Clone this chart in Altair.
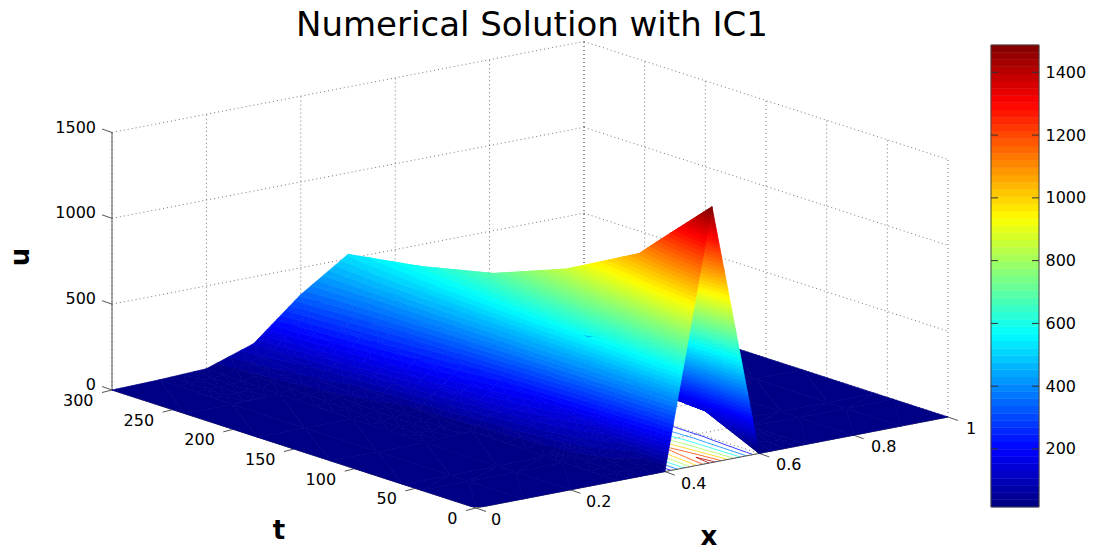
import numpy as np
import pandas as pd
import altair as alt

alt.data_transformers.disable_max_rows()

# ---- data ----
X_GRID = [0, .1, .2, .3, .4, .5, .6, .7, .8, .9, 1]
T_GRID = [0, 45, 60, 120, 180, 240, 300]
U_GRID = [
    [0, 0, 0, 0, 0, 1490, 0, 0, 0, 0, 0],
    [0, 0, 0, 3, 100, 1184, 146, 3, 0, 0, 0],
    [0, 0, 0, 5, 130, 1080, 152, 5, 0, 0, 0],
    [0, 0, 0, 15, 210, 852, 210, 15, 0, 0, 0],
    [0, 0, 2, 40, 270, 689, 270, 40, 2, 0, 0],
    [0, 2, 8, 75, 310, 592, 310, 75, 8, 2, 0],
    [0, 6, 18, 111, 344, 525, 344, 111, 18, 6, 0],
]
X_TICKS = [0, .2, .4, .6, .8, 1]
X_LABELS = ["0", "0.2", "0.4", "0.6", "0.8", "1"]
T_TICKS = [0, 50, 100, 150, 200, 250, 300]
U_TICKS = [0, 500, 1000, 1500]
CONTOUR_LEVELS = [200, 400, 600, 800, 1000, 1200, 1400]
BAR_TICKS = [200, 400, 600, 800, 1000, 1200, 1400]
C_MIN, C_MAX = 15, 1487
TITLE = "Numerical Solution with IC1"
FONT = "DejaVu Sans"

# ---- view of the axes box (page pixels minus the panel origin) ----
OX, OY = 8, 43
CORNERS = {"O": (475, 506), "X": (947, 415), "T": (111, 388), "B": (583, 297)}
U_PX = 257.5 / 1500
PANEL_W, PANEL_H = 975, 462


def proj(x, t, u=0.0):
    a, b = x, t / 300
    px = (1-a)*(1-b)*CORNERS["O"][0] + a*(1-b)*CORNERS["X"][0] + (1-a)*b*CORNERS["T"][0] + a*b*CORNERS["B"][0]
    py = (1-a)*(1-b)*CORNERS["O"][1] + a*(1-b)*CORNERS["X"][1] + (1-a)*b*CORNERS["T"][1] + a*b*CORNERS["B"][1]
    return px - OX, py - OY - U_PX * u


def jet(n):
    out = []
    for i in range(n):
        v = (i + 0.5) / n
        r = np.clip(min(4*v - 1.5, -4*v + 4.5), 0, 1)
        g = np.clip(min(4*v - 0.5, -4*v + 3.5), 0, 1)
        b = np.clip(min(4*v + 0.5, -4*v + 2.5), 0, 1)
        out.append("#%02x%02x%02x" % (round(r*255), round(g*255), round(b*255)))
    return out


JET = jet(64)
EDGES = np.linspace(C_MIN, C_MAX, 65)
color_scale = alt.Scale(type="quantize", domain=[C_MIN, C_MAX], range=JET)

# ---- surface: triangles sliced at the colormap's band edges ----
U = np.array(U_GRID, float)


def clip(poly, val, keep_above):
    out = []
    n = len(poly)
    for i in range(n):
        p, q = poly[i], poly[(i+1) % n]
        pin = (p[2] >= val) if keep_above else (p[2] <= val)
        qin = (q[2] >= val) if keep_above else (q[2] <= val)
        if pin:
            out.append(p)
        if pin != qin:
            s = (val - p[2]) / (q[2] - p[2])
            out.append((p[0]+s*(q[0]-p[0]), p[1]+s*(q[1]-p[1]), val))
    return out


features, segs = [], []
tris = []
SUB = 4
for i in range(len(T_GRID)-1):
    for j in range(len(X_GRID)-1):
        c = [U[i, j], U[i, j+1], U[i+1, j], U[i+1, j+1]]
        sub = SUB if max(c) > C_MIN else 1
        for a in range(sub):
            for b in range(sub):
                def vert(ka, kb):
                    fa, fb = ka/sub, kb/sub
                    x = X_GRID[j] + fa*(X_GRID[j+1]-X_GRID[j])
                    t = T_GRID[i] + fb*(T_GRID[i+1]-T_GRID[i])
                    u = (1-fa)*(1-fb)*c[0] + fa*(1-fb)*c[1] + (1-fa)*fb*c[2] + fa*fb*c[3]
                    return (x, t, u)
                v = [vert(a, b), vert(a+1, b), vert(a+1, b+1), vert(a, b+1)]
                tris.append([v[0], v[1], v[2]])
                tris.append([v[0], v[2], v[3]])


def depth(tri):
    return np.mean([proj(p[0], p[1])[1] for p in tri])


tris.sort(key=depth)
for tri in tris:
    lo_u, hi_u = min(p[2] for p in tri), max(p[2] for p in tri)
    for k in range(64):
        lo = EDGES[k] if k else -1e9
        hi = EDGES[k+1] if k < 63 else 1e9
        if hi_u < lo or lo_u > hi:
            continue
        poly = clip(clip(tri, lo, True), hi, False)
        if len(poly) < 3:
            continue
        ring = [[round(c, 2) for c in proj(*p)] for p in poly]
        ring.append(ring[0])
        features.append({
            "type": "Feature",
            "geometry": {"type": "Polygon", "coordinates": [ring]},
            "properties": {"u": round(float((EDGES[k]+EDGES[k+1])/2), 2)},
        })
    for lev in CONTOUR_LEVELS:
        if lo_u < lev < hi_u:
            pts = []
            for m in range(3):
                p, q = tri[m], tri[(m+1) % 3]
                if (p[2]-lev)*(q[2]-lev) < 0:
                    s = (lev-p[2])/(q[2]-p[2])
                    pts.append(proj(p[0]+s*(q[0]-p[0]), p[1]+s*(q[1]-p[1])))
            if len(pts) == 2:
                sid = len(segs)
                segs.append({"id": sid, "px": pts[0][0], "py": pts[0][1], "u": lev})
                segs.append({"id": sid, "px": pts[1][0], "py": pts[1][1], "u": lev})
contours = pd.DataFrame(segs)

# ---- box, grid, ticks ----
grid_rows, axis_rows = [], []


def add(rows, a, b):
    sid = len(rows)
    rows.append({"id": sid, "px": a[0], "py": a[1]})
    rows.append({"id": sid, "px": b[0], "py": b[1]})


for x in X_TICKS:
    add(grid_rows, proj(x, 0), proj(x, 300))
    add(grid_rows, proj(x, 300), proj(x, 300, 1500))
for t in T_TICKS:
    add(grid_rows, proj(0, t), proj(1, t))
    add(grid_rows, proj(1, t), proj(1, t, 1500))
for u in U_TICKS:
    add(grid_rows, proj(0, 300, u), proj(1, 300, u))
    add(grid_rows, proj(1, 300, u), proj(1, 0, u))

add(axis_rows, proj(0, 0), proj(1, 0))
add(axis_rows, proj(0, 0), proj(0, 300))
add(axis_rows, proj(0, 300), proj(0, 300, 1500))
for x in X_TICKS:
    p = proj(x, 0)
    add(axis_rows, p, (p[0]+10, p[1]+3.5))
for t in T_TICKS:
    p = proj(0, t)
    add(axis_rows, p, (p[0]-10, p[1]+2.5))
for u in U_TICKS:
    p = proj(0, 300, u)
    add(axis_rows, p, (p[0]-10, p[1]-3.5))

x_text = pd.DataFrame([{"px": proj(x, 0)[0]+15+3*x, "py": proj(x, 0)[1]+12, "s": s}
                       for x, s in zip(X_TICKS, X_LABELS)])
t_text = pd.DataFrame([{"px": proj(0, t)[0]-18.5, "py": proj(0, t)[1]+11, "s": str(t)}
                       for t in T_TICKS])
u_text = pd.DataFrame([{"px": proj(0, 300, u)[0]-16, "py": proj(0, 300, u)[1]-5, "s": str(u)}
                       for u in U_TICKS])
name_text = pd.DataFrame([
    {"px": 708-OX, "py": 535-OY, "s": "x"},
    {"px": 278-OX, "py": 529-OY, "s": "t"},
])
name_u = pd.DataFrame([{"px": 20-OX, "py": 255-OY, "s": "u"}])

xs = alt.X("px:Q", axis=None, scale=alt.Scale(domain=[0, PANEL_W], nice=False, zero=False))
ys = alt.Y("py:Q", axis=None, scale=alt.Scale(domain=[0, PANEL_H], reverse=True, nice=False, zero=False))

grid = alt.Chart(pd.DataFrame(grid_rows)).mark_line(
    color="#555555", strokeWidth=1, strokeDash=[1, 3], opacity=0.8
).encode(x=xs, y=ys, detail="id:N")
cont = alt.Chart(contours).mark_line(strokeWidth=0.8).encode(
    x=xs, y=ys, detail="id:N", color=alt.Color("u:Q", scale=color_scale, legend=None))
axes_lines = alt.Chart(pd.DataFrame(axis_rows)).mark_line(color="#555555", strokeWidth=1).encode(
    x=xs, y=ys, detail="id:N")
surface = alt.Chart(alt.Data(values=features)).mark_geoshape(strokeWidth=0.7).encode(
    color=alt.Color("properties.u:Q", scale=color_scale, legend=None),
    stroke=alt.Stroke("properties.u:Q", scale=color_scale, legend=None),
).project(type="identity", scale=1, translate=[0, 0])


def text_layer(df, align, size=16, weight="normal", angle=0):
    return alt.Chart(df).mark_text(align=align, baseline="middle", font=FONT, fontSize=size,
                                   fontWeight=weight, angle=angle, color="black").encode(x=xs, y=ys, text="s:N")


main = alt.layer(
    grid, cont, axes_lines, surface,
    text_layer(x_text, "left"), text_layer(t_text, "right"), text_layer(u_text, "right"),
    text_layer(name_text, "center", size=26, weight="bold"),
    text_layer(name_u, "center", size=26, weight="bold", angle=270),
).properties(width=PANEL_W, height=PANEL_H)

# ---- colorbar ----
bands = pd.DataFrame({"lo": EDGES[:-1], "hi": EDGES[1:], "c": (EDGES[:-1]+EDGES[1:])/2})
bar_y = alt.Scale(domain=[C_MIN, C_MAX], nice=False, zero=False)
bar_axis = alt.Axis(orient="right", values=BAR_TICKS, tickSize=0, domain=False, grid=False, title=None,
                    format="d", labelFont=FONT, labelFontSize=16, labelColor="black", labelPadding=6)
bar_rect = alt.Chart(bands).mark_rect(strokeWidth=0.5).encode(
    x=alt.value(0), x2=alt.value(48),
    y=alt.Y("lo:Q", scale=bar_y, axis=bar_axis),
    y2="hi:Q",
    color=alt.Color("c:Q", scale=color_scale, legend=None),
    stroke=alt.Stroke("c:Q", scale=color_scale, legend=None),
)
frame = alt.Chart(pd.DataFrame({"lo": [C_MIN], "hi": [C_MAX]})).mark_rect(
    fillOpacity=0, stroke="#444444", strokeWidth=1
).encode(x=alt.value(0), x2=alt.value(48), y=alt.Y("lo:Q", scale=bar_y, axis=bar_axis), y2="hi:Q")
tick_df = pd.DataFrame({"lo": BAR_TICKS})
tick_l = alt.Chart(tick_df).mark_rule(color="#333333", strokeWidth=1).encode(
    x=alt.value(0), x2=alt.value(7), y=alt.Y("lo:Q", scale=bar_y, axis=bar_axis))
tick_r = alt.Chart(tick_df).mark_rule(color="#333333", strokeWidth=1).encode(
    x=alt.value(41), x2=alt.value(48), y=alt.Y("lo:Q", scale=bar_y, axis=bar_axis))
bar = alt.layer(bar_rect, frame, tick_l, tick_r).properties(width=48, height=PANEL_H)

chart = alt.hconcat(main, bar, spacing=6).properties(
    padding=0,
    title=alt.TitleParams(TITLE, font=FONT, fontSize=34, fontWeight="normal", color="black",
                          anchor="start", dx=288, offset=-3),
).configure_view(stroke=None)

chart.save("out.html", embed_options={"renderer": "svg", "actions": False})
